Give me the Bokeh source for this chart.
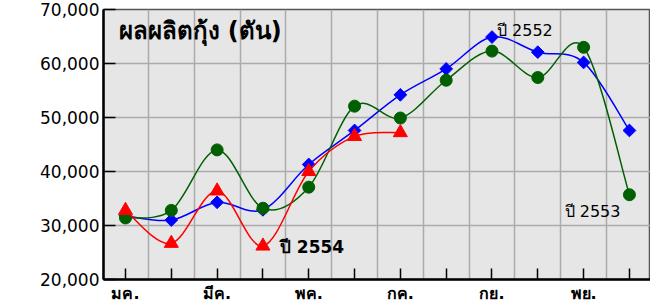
from bokeh.plotting import figure
from bokeh.models import Range1d, FixedTicker, NumeralTickFormatter, Label
from bokeh.embed import file_html
from bokeh.resources import INLINE

# ---- data ----
months = ["มค.", "กพ.", "มีค.", "เมย.", "พค.", "มิย.", "กค.", "สค.", "กย.", "ตค.", "พย.", "ธค."]
month_labels = ["มค.", "", "มีค.", "", "พค.", "", "กค.", "", "กย.", "", "พย.", ""]
y2552 = [31800, 31000, 34300, 32900, 41300, 47600, 54200, 59000, 64900, 62100, 60200, 47600]
y2553 = [31400, 32800, 44000, 33200, 37100, 52100, 49900, 56900, 62300, 57400, 63000, 35700]
y2554 = [32800, 26700, 36400, 26200, 40000, 46500, 47200]
y_ticks = [20000, 30000, 40000, 50000, 60000, 70000]
title_text = "ผลผลิตกุ้ง (ตัน)"

FONT = "DejaVu Sans"

p = figure(width=650, height=305, output_backend="svg", toolbar_location=None,
           x_range=Range1d(-0.48, 11.46), y_range=Range1d(20000, 70000),
           min_border_left=103, min_border_right=0, min_border_top=9, min_border_bottom=0)
p.background_fill_color = "#e6e6e6"
p.border_fill_color = "white"
p.outline_line_color = "#555555"
p.outline_line_width = 1.5

# grids
p.xgrid.ticker = FixedTicker(ticks=[i + 0.5 for i in range(12)])
p.xgrid.grid_line_color = "#ababab"
p.xgrid.grid_line_width = 1.5
p.ygrid.ticker = FixedTicker(ticks=y_ticks)
p.ygrid.grid_line_color = "#ababab"
p.ygrid.grid_line_width = 1.5

# axes
p.xaxis.ticker = FixedTicker(ticks=list(range(12)))
p.xaxis.major_label_overrides = {i: month_labels[i] for i in range(12)}
p.xaxis.major_tick_in = 11
p.xaxis.major_tick_out = 0
p.xaxis.minor_tick_line_color = None
p.xaxis.axis_line_width = 2.5
p.xaxis.major_tick_line_width = 1.5
p.xaxis.major_label_text_font = FONT
p.xaxis.major_label_text_font_size = "16px"
p.xaxis.major_label_text_font_style = "bold"
p.xaxis.major_label_text_color = "black"
p.xaxis.major_label_standoff = 4

p.yaxis.ticker = FixedTicker(ticks=y_ticks)
p.yaxis.formatter = NumeralTickFormatter(format="0,0")
p.yaxis.major_tick_in = 12
p.yaxis.major_tick_out = 0
p.yaxis.minor_tick_line_color = None
p.yaxis.axis_line_width = 2.5
p.yaxis.major_tick_line_width = 1.5
p.yaxis.major_label_text_font = FONT
p.yaxis.major_label_text_font_size = "17px"
p.yaxis.major_label_text_color = "black"
p.yaxis.major_label_standoff = 4


def smooth(xs, ys, color, width=1.5):
    n = len(xs)
    x0s, y0s, x1s, y1s, cx0, cy0, cx1, cy1 = [], [], [], [], [], [], [], []
    for i in range(n - 1):
        a = max(i - 1, 0)
        b = min(i + 2, n - 1)
        x0s.append(xs[i]); y0s.append(ys[i])
        x1s.append(xs[i + 1]); y1s.append(ys[i + 1])
        cx0.append(xs[i] + (xs[i + 1] - xs[a]) / 6.0)
        cy0.append(ys[i] + (ys[i + 1] - ys[a]) / 6.0)
        cx1.append(xs[i + 1] - (xs[b] - xs[i]) / 6.0)
        cy1.append(ys[i + 1] - (ys[b] - ys[i]) / 6.0)
    p.bezier(x0=x0s, y0=y0s, x1=x1s, y1=y1s, cx0=cx0, cy0=cy0, cx1=cx1, cy1=cy1,
             line_color=color, line_width=width)


xs12 = list(range(12))
xs7 = list(range(len(y2554)))

BLUE = "#0000ff"
GREEN = "#005f00"
RED = "#ff0000"

smooth(xs12, y2552, BLUE)
p.scatter(xs12, y2552, marker="square", angle=0.785398, size=9, color=BLUE)

smooth(xs12, y2553, GREEN)
p.scatter(xs12, y2553, marker="circle", size=12, color=GREEN)

smooth(xs7, y2554, RED)
p.scatter(xs7, y2554, marker="triangle", size=14, color=RED)

# annotations
p.add_layout(Label(x=-0.48, y=70000, x_offset=15, y_offset=-21, text=title_text,
                   text_font=FONT, text_font_size="24px", text_font_style="bold",
                   text_baseline="middle", text_align="left", text_color="black"))
p.add_layout(Label(x=8, y=y2552[8], x_offset=5, y_offset=7, text="ปี 2552",
                   text_font=FONT, text_font_size="16px",
                   text_baseline="middle", text_align="left", text_color="black"))
p.add_layout(Label(x=11, y=y2553[11], x_offset=-9, y_offset=-17, text="ปี 2553",
                   text_font=FONT, text_font_size="16px",
                   text_baseline="middle", text_align="right", text_color="black"))
p.add_layout(Label(x=3, y=y2554[3], x_offset=17, y_offset=-1, text="ปี 2554",
                   text_font=FONT, text_font_size="17px", text_font_style="bold",
                   text_baseline="middle", text_align="left", text_color="black"))

open("out.html", "w").write(file_html(p, INLINE))
